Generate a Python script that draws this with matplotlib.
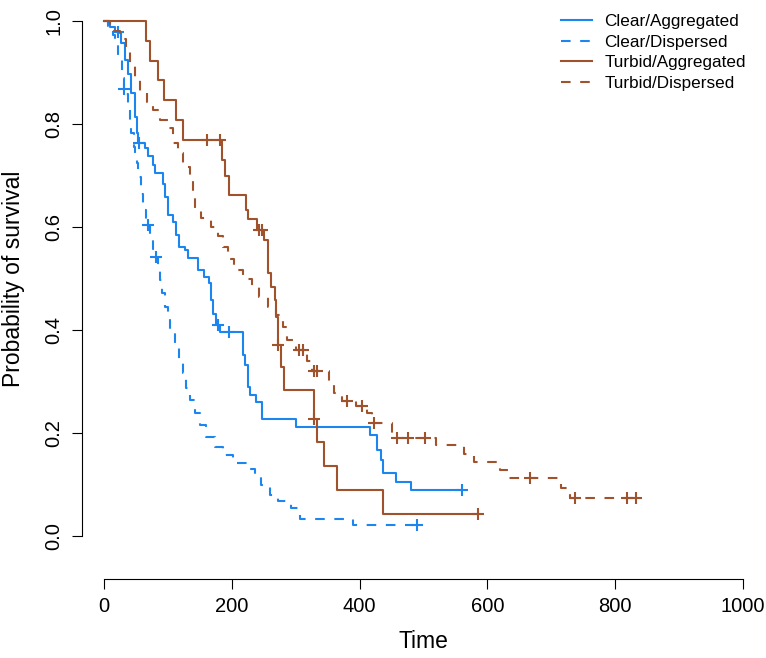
import numpy as np
import matplotlib.pyplot as plt
from matplotlib.lines import Line2D

plt.rcParams['font.family'] = ['Liberation Sans', 'DejaVu Sans']

# Kaplan-Meier steps (time, survival after the drop)
ca_time = [0, 9, 17, 27, 33, 38, 43, 48, 51, 53, 64, 69, 77, 80, 92, 95, 100, 108, 113, 118, 126, 131,
           147, 157, 165, 168, 171, 176, 181, 217, 220, 225, 228, 238, 248, 300, 416, 428, 433, 436, 457, 480]
ca_surv = [1.0, 0.989, 0.979, 0.957, 0.924, 0.898, 0.86, 0.814, 0.782, 0.763, 0.753, 0.737, 0.72, 0.704,
           0.683, 0.659, 0.623, 0.61, 0.584, 0.562, 0.555, 0.539, 0.517, 0.503, 0.491, 0.458, 0.432, 0.41,
           0.397, 0.351, 0.332, 0.29, 0.274, 0.261, 0.228, 0.212, 0.196, 0.167, 0.148, 0.122, 0.105, 0.089]
ca_cens = [22, 54, 178, 196, 561]

cd_time = [0, 6, 14, 17, 22, 28, 31, 35, 38, 41, 43, 47, 48, 51, 53, 58, 61, 66, 72, 77, 80, 85, 87, 90,
           95, 100, 103, 111, 118, 124, 129, 134, 142, 150, 160, 173, 186, 202, 225, 236, 246, 259, 272,
           293, 306, 389]
cd_surv = [1.0, 0.99, 0.973, 0.957, 0.924, 0.89, 0.867, 0.859, 0.834, 0.808, 0.782, 0.756, 0.743, 0.724,
           0.698, 0.665, 0.633, 0.604, 0.581, 0.558, 0.542, 0.523, 0.497, 0.471, 0.445, 0.423, 0.394, 0.368,
           0.342, 0.316, 0.287, 0.264, 0.238, 0.216, 0.193, 0.173, 0.157, 0.142, 0.131, 0.118, 0.099, 0.08,
           0.067, 0.054, 0.033, 0.021]
cd_cens = [32, 69, 82, 490]

ta_time = [0, 66, 72, 85, 94, 112, 124, 184, 189, 195, 222, 226, 240, 251, 256, 262, 267, 269, 272, 277,
           282, 329, 334, 345, 364, 437]
ta_surv = [1.0, 0.962, 0.923, 0.885, 0.846, 0.808, 0.769, 0.73, 0.70, 0.662, 0.633, 0.615, 0.594, 0.575,
           0.51, 0.484, 0.458, 0.426, 0.371, 0.329, 0.283, 0.228, 0.183, 0.135, 0.089, 0.043]
ta_cens = [161, 182, 243, 248, 272, 329, 585]

td_time = [0, 9, 25, 35, 41, 48, 56, 67, 77, 87, 100, 108, 116, 124, 134, 139, 142, 152, 168, 178, 186,
           194, 204, 217, 232, 243, 256, 269, 280, 287, 300, 318, 326, 352, 360, 372, 395, 412, 420, 450,
           520, 563, 579, 620, 633, 715, 730]
td_surv = [1.0, 0.98, 0.965, 0.94, 0.918, 0.892, 0.863, 0.843, 0.827, 0.808, 0.792, 0.763, 0.743, 0.717,
           0.691, 0.665, 0.633, 0.617, 0.60, 0.583, 0.562, 0.537, 0.517, 0.50, 0.483, 0.465, 0.445, 0.43,
           0.405, 0.381, 0.362, 0.34, 0.32, 0.296, 0.278, 0.262, 0.252, 0.238, 0.219, 0.19, 0.177, 0.159,
           0.144, 0.128, 0.112, 0.093, 0.074]
td_cens = [305, 312, 329, 333, 381, 404, 423, 459, 476, 503, 667, 737, 818, 833]

labels = ['Clear/Aggregated', 'Clear/Dispersed', 'Turbid/Aggregated', 'Turbid/Dispersed']
blue = '#1C86EE'
brown = '#A0522D'
dash = (0, (4.6, 4.6))

curves = [
    (ca_time, ca_surv, ca_cens, blue, '-'),
    (cd_time, cd_surv, cd_cens, blue, dash),
    (ta_time, ta_surv, ta_cens, brown, '-'),
    (td_time, td_surv, td_cens, brown, dash),
]

W, H = 766, 658
fig = plt.figure(figsize=(W / 100, H / 100), dpi=100)
ax_l, ax_b = 82, 579  # pixel position of the axis lines
ax = fig.add_axes([ax_l / W, (H - ax_b) / H, (W - ax_l) / W, ax_b / H])

for t, s, cens, col, ls in curves:
    t = np.array(t, dtype=float)
    s = np.array(s, dtype=float)
    end = max(t[-1], max(cens))
    ax.step(np.append(t, end), np.append(s, s[-1]), where='post', color=col, lw=1.5, linestyle=ls)
    idx = np.searchsorted(t, cens, side='right') - 1
    ax.plot(cens, s[idx], linestyle='none', marker='+', ms=9, mew=1.5, color=col)

ax.set_xlim((ax_l - 104) / 0.639, (W - 104) / 0.639)
ax.set_ylim((536 - ax_b) / 515, 536 / 515)

for side in ['top', 'right']:
    ax.spines[side].set_visible(False)
ax.spines['left'].set_bounds(0, 1)
ax.spines['bottom'].set_bounds(0, 1000)
for side in ['left', 'bottom']:
    ax.spines[side].set_linewidth(0.8)

ax.set_xticks(np.arange(0, 1001, 200))
ax.set_yticks(np.arange(0, 1.01, 0.2))
ax.set_yticklabels([f'{v:.1f}' for v in np.arange(0, 1.01, 0.2)])
ax.tick_params(direction='out', length=7.2, width=0.8, labelsize=14.5)
ax.tick_params(axis='x', pad=6)
ax.tick_params(axis='y', pad=6, labelrotation=90)
for lab in ax.get_yticklabels():
    lab.set_va('center')

fig.text(14 / W, 1 - 278.5 / H, 'Probability of survival', rotation=90, ha='center', va='center', fontsize=16.5)
fig.text(423 / W, 1 - 641 / H, 'Time', ha='center', va='center', fontsize=16.5)

handles = [Line2D([], [], color=c, lw=1.5, linestyle=ls) for _, _, _, c, ls in curves]
ax.legend(handles, labels, loc='upper left', bbox_to_anchor=(561 / W, 1 - 14 / H),
          bbox_transform=fig.transFigure, frameon=False, fontsize=12.3, handlelength=1.8,
          handletextpad=0.75, labelspacing=0.33, borderaxespad=0, borderpad=0)

fig.savefig('out.png', dpi=100)
